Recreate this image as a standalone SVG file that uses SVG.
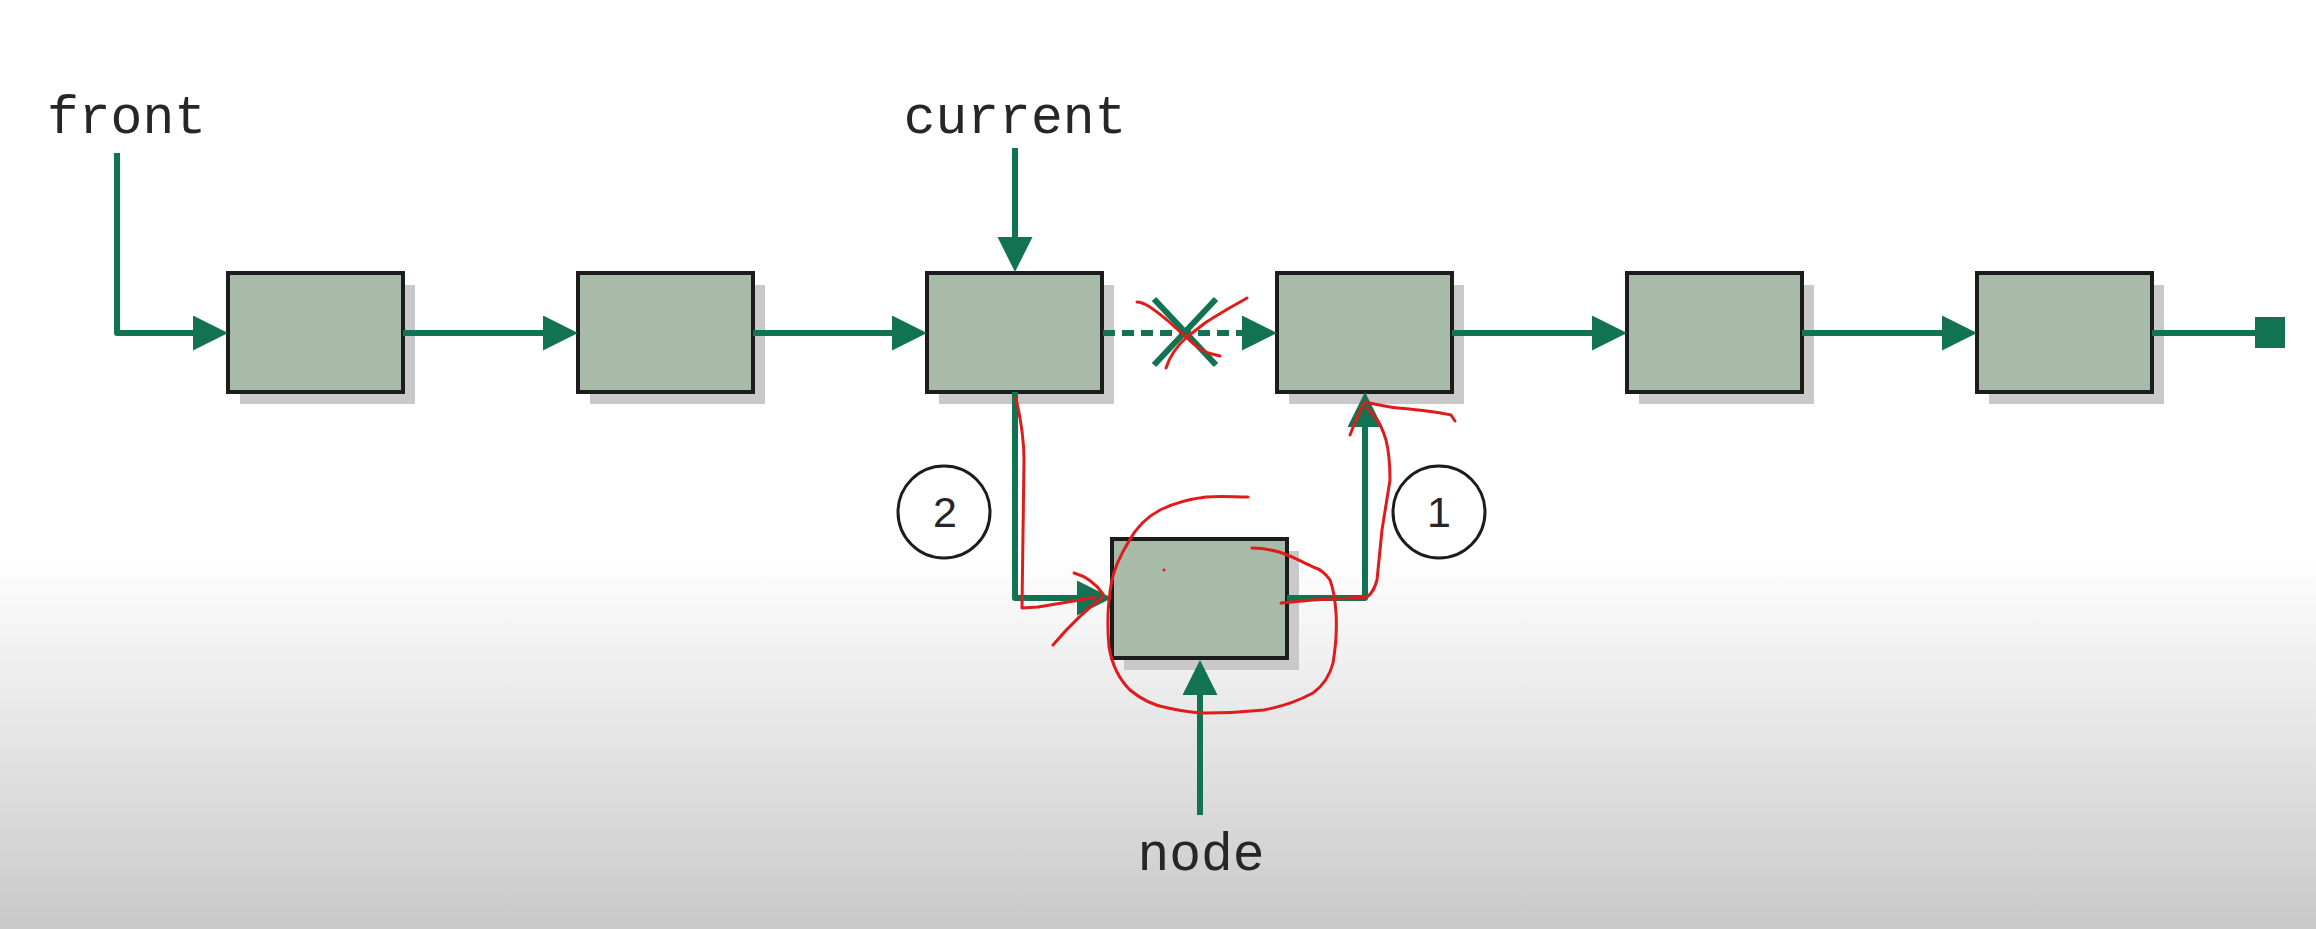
<svg xmlns="http://www.w3.org/2000/svg" width="2316" height="929" viewBox="0 0 2316 929">
<defs>
<linearGradient id="bg" x1="0" y1="0" x2="0" y2="929" gradientUnits="userSpaceOnUse">
<stop offset="0" stop-color="#ffffff"/>
<stop offset="0.595" stop-color="#ffffff"/>
<stop offset="1" stop-color="#c9c9c9"/>
</linearGradient>
<marker id="ah" markerUnits="userSpaceOnUse" markerWidth="36" markerHeight="36" refX="5" refY="17.5" orient="auto" viewBox="0 0 36 36">
<path d="M0,0 L35,17.5 L0,35 Z" fill="#117352"/>
</marker>
</defs>
<style>
.lbl{font-family:"Liberation Mono","Courier New",monospace;font-size:53px;fill:#262626}
.num{font-family:"Liberation Sans",Arial,sans-serif;font-size:43px;fill:#262626;text-anchor:middle}
.box{fill:#a8baa8;stroke:#1c1c1c;stroke-width:4}
.shadow{fill:#c9c9c9}
.conn{fill:none;stroke:#117352;stroke-width:6;stroke-linejoin:round}
.arr{marker-end:url(#ah)}
.dash{stroke-dasharray:12 7}
.circ{fill:none;stroke:#1c1c1c;stroke-width:3}
.red{fill:none;stroke:#e01b1b;stroke-width:3;stroke-linecap:round;stroke-linejoin:round}
</style>
<rect x="0" y="0" width="2316" height="929" fill="url(#bg)"/>

<text class="lbl" x="47" y="133">front</text>
<text class="lbl" x="1015" y="133" text-anchor="middle">current</text>
<text class="lbl" x="1201" y="870" text-anchor="middle">node</text>

<g id="n1"><rect class="shadow" x="240" y="285" width="175" height="119"/><rect class="box" x="228" y="273" width="175" height="119"/></g>
<g id="n2"><rect class="shadow" x="590" y="285" width="175" height="119"/><rect class="box" x="578" y="273" width="175" height="119"/></g>
<g id="n3"><rect class="shadow" x="939" y="285" width="175" height="119"/><rect class="box" x="927" y="273" width="175" height="119"/></g>
<g id="n4"><rect class="shadow" x="1289" y="285" width="175" height="119"/><rect class="box" x="1277" y="273" width="175" height="119"/></g>
<g id="n5"><rect class="shadow" x="1639" y="285" width="175" height="119"/><rect class="box" x="1627" y="273" width="175" height="119"/></g>
<g id="n6"><rect class="shadow" x="1989" y="285" width="175" height="119"/><rect class="box" x="1977" y="273" width="175" height="119"/></g>
<g id="newnode"><rect class="shadow" x="1124" y="551" width="175" height="119"/><rect class="box" x="1112" y="539" width="175" height="119"/></g>

<g id="step2"><circle class="circ" cx="944" cy="512" r="46"/><text class="num" x="945" y="527">2</text></g>
<g id="step1"><circle class="circ" cx="1439" cy="512" r="46"/><text class="num" x="1439" y="527">1</text></g>

<g id="connectors">
<path class="conn arr" d="M117,153 V333 H198"/>
<path class="conn arr" d="M403,333 H548"/>
<path class="conn arr" d="M753,333 H897"/>
<path class="conn arr dash" d="M1103,333 H1247"/>
<path class="conn arr" d="M1452,333 H1597"/>
<path class="conn arr" d="M1802,333 H1947"/>
<path class="conn" d="M2152,333 H2260"/>
<rect x="2255" y="317" width="30" height="31" fill="#117352"/>
<path class="conn arr" d="M1015,148 V242"/>
<path class="conn arr" d="M1015,392 V598 H1082"/>
<path class="conn arr" d="M1287,598 H1365 V422"/>
<path class="conn arr" d="M1200,815 V690"/>
<path class="conn" d="M1154,299 L1216,365 M1216,299 L1154,365"/>
</g>

<g id="annotations">
<path class="red" d="M1137,302 C1143,302 1150,306 1167,320 L1187,338 C1195,346 1203,352 1212,354 L1220,356"/>
<path class="red" d="M1247,298 C1235,305 1222,312 1205,323 L1187,337 C1178,345 1170,355 1166,368"/>
<path class="red" d="M1016,398 C1021,420 1024,440 1024,460 L1022,608 L1038,607 L1080,600 L1095,597"/>
<path class="red" d="M1074,573 C1085,576 1096,584 1103,594 M1053,645 C1070,625 1088,608 1103,597"/>
<path class="red" d="M1248,497 C1235,497 1220,496 1206,497 C1190,499 1172,504 1160,510 C1145,518 1135,530 1129,541 C1120,556 1114,570 1112,580 C1108,600 1107,625 1109,647 C1112,665 1120,680 1130,690 C1142,700 1155,706 1168,708 C1182,711 1195,713 1206,713 C1225,713 1245,712 1264,710 C1285,706 1300,700 1313,693 C1324,685 1330,675 1333,663 C1336,645 1337,628 1336,613 C1335,598 1333,588 1330,580 C1326,574 1320,569 1313,567 C1300,561 1290,555 1279,552 C1268,549 1260,548 1252,548"/>
<path class="red" d="M1281,603 L1313,600 L1367,597 C1373,593 1375,587 1377,580 L1382,530 L1390,480 C1390,465 1389,452 1386,440 C1383,430 1379,422 1375,417 L1367,408"/>
<path class="red" d="M1350,435 C1355,422 1360,410 1365,402 C1375,404 1386,407 1398,408 C1420,410 1438,412 1451,415 L1455,421"/>
<circle cx="1164" cy="570" r="1.5" fill="#e01b1b"/>
</g>
</svg>
